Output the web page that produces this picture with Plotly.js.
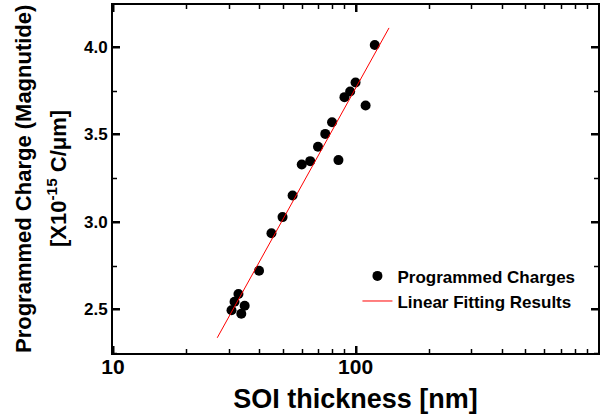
<!DOCTYPE html>
<html>
<head>
<meta charset="utf-8">
<script src="https://cdn.plot.ly/plotly-3.0.1.min.js"></script>
<style>html,body{margin:0;padding:0;background:#fff;}#chart{width:603px;height:417px;}</style>
</head>
<body>
<div id="chart"></div>
<script>
// Measured data (SOI thickness in nm, programmed charge magnitude in 1e-15 C/um)
var thickness = [30.8, 31.7, 32.9, 33.8, 34.9, 40, 45, 50, 55, 60, 65, 70, 75, 80, 85, 90, 95, 100, 110, 120];
var charge    = [2.494, 2.543, 2.587, 2.474, 2.520, 2.720, 2.935, 3.027, 3.151, 3.328, 3.347, 3.429, 3.503, 3.570, 3.353, 3.713, 3.745, 3.797, 3.665, 4.011];
// Linear fitting line end points
var fitX = [26.9, 137.4];
var fitY = [2.337, 4.109];
// Tick values / labels
var xTickVals = [10, 100];
var xTickText = ['10', '100'];
var xMinorVals = [20, 30, 40, 50, 60, 70, 80, 90, 200, 300, 400, 500, 600, 700, 800, 900];
var yTickVals = [2.5, 3.0, 3.5, 4.0];
var yMinorVals = [2.25, 2.75, 3.25, 3.75];
var yTitleLines = ['Programmed Charge (Magnutide)', '[X10<sup>-15</sup> C/μm]'];

var FONT = 'Liberation Sans, Arial, sans-serif';

var traces = [
  {x: thickness, y: charge, type: 'scatter', mode: 'markers', name: 'Programmed Charges',
   marker: {color: '#000', size: 10, symbol: 'circle'}},
  {x: fitX, y: fitY, type: 'scatter', mode: 'lines', name: 'Linear Fitting Results',
   line: {color: '#ff0000', width: 1}}
];

var L = 113, PW = 485;
function px2paper(px) { return (px - L) / PW; }

var layout = {
  width: 603, height: 417,
  font: {family: FONT, color: '#000'},
  margin: {l: 113, r: 5, t: 5, b: 64},
  showlegend: true,
  legend: {x: 0.504, xanchor: 'left', y: 0.272, yanchor: 'top', bgcolor: 'rgba(0,0,0,0)',
           font: {size: 17, color: '#000', weight: 700}, tracegroupgap: 0},
  xaxis: {
    type: 'log', range: [1, 2.9995],
    tickmode: 'array', tickvals: xTickVals, ticktext: xTickText,
    ticks: 'inside', ticklen: 7, tickwidth: 2, tickcolor: '#000',
    showline: true, linewidth: 2, linecolor: '#000', mirror: 'allticks',
    showgrid: false,
    tickfont: {size: 21, color: '#000', weight: 700},
    ticklabelstandoff: -6,
    title: {text: 'SOI thickness [nm]', standoff: 12,
            font: {size: 27, color: '#000', weight: 700}}
  },
  yaxis: {
    range: [2.25, 4.24],
    tickmode: 'array', tickvals: yTickVals, ticktext: yTickVals.map(function(v){ return v.toFixed(1); }),
    ticks: 'inside', ticklen: 7, tickwidth: 2, tickcolor: '#000',
    showline: true, linewidth: 2, linecolor: '#000', mirror: 'allticks',
    showgrid: false,
    tickfont: {size: 17, color: '#000', weight: 700}
  },
  annotations: [
    {text: yTitleLines[0], textangle: -90, xref: 'paper', yref: 'paper',
     x: px2paper(23), y: 0.5, xanchor: 'center', yanchor: 'middle', showarrow: false,
     font: {size: 22, color: '#000', weight: 700}},
    {text: yTitleLines[1], textangle: -90, xref: 'paper', yref: 'paper',
     x: px2paper(57), y: 0.5, xanchor: 'center', yanchor: 'middle', showarrow: false,
     font: {size: 22, color: '#000', weight: 700}}
  ]
};

// Tick marks on all four sides, placed with the library's own axis scales
function drawTickMarks(gd) {
  try {
    var xa = gd._fullLayout.xaxis, ya = gd._fullLayout.yaxis;
    var svg = gd.querySelector('.main-svg');
    var NS = 'http://www.w3.org/2000/svg';
    var g = document.createElementNS(NS, 'g');
    var left = xa._offset, right = xa._offset + xa._length;
    var top = ya._offset, bottom = ya._offset + ya._length;
    function seg(x1, y1, x2, y2, w) {
      var l = document.createElementNS(NS, 'line');
      l.setAttribute('x1', x1); l.setAttribute('y1', y1);
      l.setAttribute('x2', x2); l.setAttribute('y2', y2);
      l.setAttribute('stroke', '#000'); l.setAttribute('stroke-width', w);
      g.appendChild(l);
    }
    function xt(vals, len, w) {
      vals.forEach(function(v){
        var p = Math.round(xa._offset + xa.l2p(xa.d2l(v))) + 0.5;
        seg(p, bottom, p, bottom - len, w);
        seg(p, top, p, top + len, w);
      });
    }
    function yt(vals, len, w) {
      vals.forEach(function(v){
        var p = Math.round(ya._offset + ya.l2p(ya.d2l(v))) + 0.5;
        seg(left, p, left + len, p, w);
        seg(right, p, right - len, p, w);
      });
    }
    xt(xTickVals, 7, 2); xt(xMinorVals, 4, 1.5);
    yt(yTickVals, 7, 2); yt(yMinorVals, 4, 1.5);
    svg.appendChild(g);
  } catch (e) {}
}

var gdiv = document.getElementById('chart');
Plotly.newPlot(gdiv, traces, layout, {displayModeBar: false}).then(function(){ drawTickMarks(gdiv); });
</script>
</body>
</html>
